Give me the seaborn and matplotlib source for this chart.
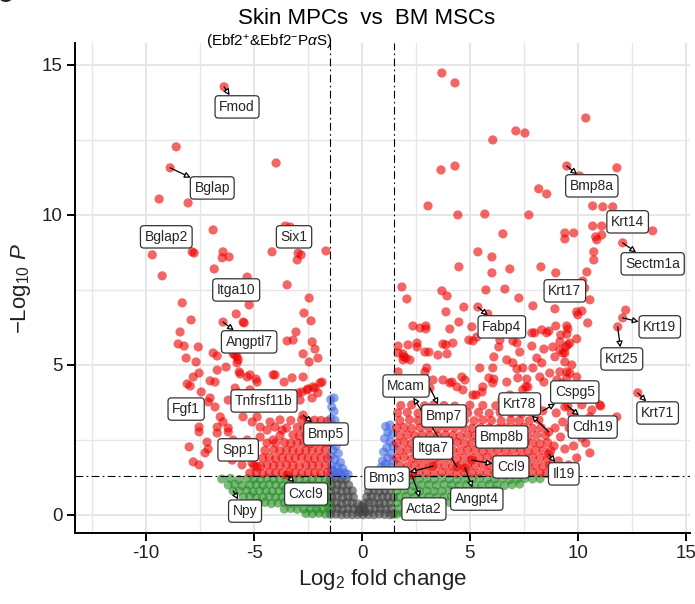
import matplotlib
matplotlib.use("Agg")

import matplotlib.pyplot as plt
from matplotlib.ticker import MultipleLocator
import seaborn as sns
import pandas as pd

sns.set_theme(style="white")
plt.rcParams["font.family"] = ["Liberation Sans", "DejaVu Sans"]
plt.rcParams["mathtext.fontset"] = "custom"
plt.rcParams["mathtext.rm"] = "Liberation Sans"
plt.rcParams["mathtext.it"] = "Liberation Sans:italic"
plt.rcParams["axes.unicode_minus"] = False

# -----------------------------
# DATA  (log2 fold change, -log10 P)
# -----------------------------
# not significant (grey)
ns_pts = [
    (-1.45, 0.02), (-1.2, 0.03), (-0.95, 0.01), (-0.7, 0.02), (-0.45, 0.01), (-0.2, 0.02), (0.05, 0.01),
    (0.3, 0.02), (0.55, 0.01), (0.8, 0.03), (1.05, 0.02), (1.3, 0.01), (1.45, 0.03),
    (-1.4, 0.2), (-1.15, 0.22), (-0.9, 0.18), (-0.65, 0.21), (-0.4, 0.2), (-0.15, 0.19), (0.1, 0.21),
    (0.35, 0.18), (0.6, 0.2), (0.85, 0.22), (1.1, 0.19), (1.35, 0.21),
    (-1.45, 0.42), (-1.2, 0.4), (-0.95, 0.38), (-0.7, 0.41), (-0.45, 0.4), (-0.2, 0.37), (0.12, 0.39),
    (0.32, 0.42), (0.55, 0.4), (0.8, 0.38), (1.05, 0.41), (1.3, 0.4),
    (-1.4, 0.6), (-1.15, 0.62), (-0.9, 0.58), (-0.65, 0.61), (-0.4, 0.6), (0.22, 0.6), (0.45, 0.62),
    (0.7, 0.58), (0.95, 0.61), (1.2, 0.6), (1.45, 0.59),
    (-1.45, 0.8), (-1.2, 0.82), (-0.95, 0.79), (-0.7, 0.8), (-0.45, 0.81), (0.3, 0.8), (0.55, 0.82),
    (0.8, 0.79), (1.05, 0.8), (1.3, 0.81),
    (-1.4, 1.0), (-1.15, 1.02), (-0.9, 0.99), (-0.62, 1.0), (0.4, 1.0), (0.65, 1.02), (0.9, 0.99),
    (1.15, 1.0), (1.42, 1.01),
    (-1.45, 1.2), (-1.2, 1.22), (-0.95, 1.19), (-0.75, 1.2), (0.5, 1.21), (0.75, 1.19), (1.0, 1.22),
    (1.25, 1.2), (1.45, 1.18),
    (0.0, 0.3), (-0.1, 0.1), (0.15, 0.1),
]

# |log2FC| > 1.5 only (green)
fc_left_pts = [
    (-6.5, 1.2), (-6.1, 1.22), (-5.7, 1.18), (-5.3, 1.21), (-5.0, 1.2), (-4.7, 1.19), (-4.4, 1.22), (-4.1, 1.2),
    (-3.8, 1.18), (-3.5, 1.21), (-3.2, 1.2), (-2.9, 1.22), (-2.6, 1.19), (-2.3, 1.2), (-2.0, 1.21), (-1.7, 1.18),
    (-6.2, 1.0), (-5.9, 1.02), (-5.55, 0.98), (-5.2, 1.0), (-4.9, 1.01), (-4.6, 0.99), (-4.3, 1.02), (-4.0, 1.0),
    (-3.7, 0.98), (-3.4, 1.01), (-3.1, 1.0), (-2.8, 0.99), (-2.5, 1.02), (-2.2, 1.0), (-1.9, 0.98), (-1.6, 1.01),
    (-5.7, 0.8), (-5.35, 0.82), (-5.05, 0.78), (-4.75, 0.8), (-4.45, 0.81), (-4.15, 0.79), (-3.85, 0.8),
    (-3.55, 0.82), (-3.25, 0.8), (-2.95, 0.78), (-2.65, 0.81), (-2.35, 0.8), (-2.05, 0.79), (-1.75, 0.82),
    (-5.5, 0.6), (-5.2, 0.62), (-4.9, 0.58), (-4.6, 0.6), (-4.3, 0.61), (-4.0, 0.59), (-3.7, 0.6),
    (-3.4, 0.62), (-3.1, 0.6), (-2.8, 0.58), (-2.5, 0.61), (-2.2, 0.6), (-1.9, 0.59), (-1.6, 0.62),
    (-4.8, 0.4), (-4.5, 0.42), (-4.2, 0.38), (-3.9, 0.4), (-3.6, 0.41), (-3.3, 0.39), (-3.0, 0.4),
    (-2.7, 0.42), (-2.4, 0.4), (-2.1, 0.38), (-1.8, 0.41), (-1.55, 0.4),
    (-3.6, 0.2), (-3.3, 0.22), (-3.0, 0.19), (-2.7, 0.2), (-2.4, 0.21), (-2.1, 0.19), (-1.8, 0.2), (-1.55, 0.22),
    (-2.6, 0.05), (-2.3, 0.04), (-2.0, 0.06), (-1.7, 0.03),
]
fc_right_pts = [
    (1.6, 1.2), (1.95, 1.22), (2.3, 1.18), (2.65, 1.21), (3.0, 1.2), (3.35, 1.19), (3.7, 1.22), (4.05, 1.2),
    (4.4, 1.18), (4.75, 1.21), (5.1, 1.2), (5.45, 1.22), (5.8, 1.19), (6.15, 1.2), (6.5, 1.21), (6.85, 1.18),
    (7.2, 1.2), (7.55, 1.22), (7.9, 1.2), (8.25, 1.21),
    (1.7, 1.0), (2.05, 1.02), (2.4, 0.98), (2.75, 1.0), (3.1, 1.01), (3.45, 0.99), (3.8, 1.02), (4.15, 1.0),
    (4.5, 0.98), (4.85, 1.01), (5.2, 1.0), (5.55, 0.99), (5.9, 1.02), (6.25, 1.0), (6.6, 0.98), (6.95, 1.01),
    (7.3, 1.03),
    (1.6, 0.8), (1.95, 0.82), (2.3, 0.78), (2.65, 0.8), (3.0, 0.81), (3.35, 0.79), (3.7, 0.8), (4.05, 0.82),
    (4.4, 0.8), (4.75, 0.78), (5.1, 0.81), (5.45, 0.8), (5.8, 0.79), (6.15, 0.83),
    (1.7, 0.6), (2.05, 0.62), (2.4, 0.58), (2.75, 0.6), (3.1, 0.61), (3.45, 0.59), (3.8, 0.6), (4.15, 0.62),
    (4.5, 0.6), (4.85, 0.58), (5.2, 0.63),
    (1.6, 0.4), (1.95, 0.42), (2.3, 0.38), (2.65, 0.4), (3.0, 0.41), (3.35, 0.39), (3.7, 0.4), (4.05, 0.42),
    (4.4, 0.43),
    (1.7, 0.2), (2.05, 0.22), (2.4, 0.19), (2.75, 0.2), (3.1, 0.23),
    (1.6, 0.03), (1.9, 0.05), (2.2, 0.04),
]

# P significant only (blue)
p_pts = [
    (-1.45, 3.85), (-1.3, 3.9), (-1.4, 3.6), (-1.3, 3.45), (-1.45, 3.2), (-1.35, 3.0), (-1.45, 2.75),
    (-1.3, 2.6), (-1.42, 2.4), (-1.2, 2.3), (-1.35, 2.15), (-1.1, 2.05), (-1.45, 1.95), (-1.25, 1.85),
    (-1.0, 1.75), (-1.4, 1.65), (-1.15, 1.6), (-0.9, 1.55), (-1.3, 1.45), (-1.05, 1.42), (-0.8, 1.4),
    (-0.65, 1.35), (-1.45, 1.35), (-0.95, 1.33), (-1.2, 1.32), (-1.4, 2.55), (-1.25, 3.15), (-1.4, 1.5),
    (1.1, 2.95), (1.3, 3.0), (1.2, 2.75), (1.4, 2.7), (1.05, 2.55), (1.3, 2.45), (1.45, 2.3), (1.15, 2.25),
    (1.0, 2.1), (1.35, 2.05), (1.2, 1.9), (0.95, 1.8), (1.45, 1.8), (1.1, 1.7), (0.9, 1.6), (1.3, 1.6),
    (0.8, 1.45), (1.0, 1.45), (1.2, 1.4), (1.45, 1.45), (0.7, 1.35), (0.9, 1.33), (1.35, 1.33), (1.1, 1.33),
]

# P and log2FC significant (red), down in Skin MPCs
sig_left_pts = [
    (-8.61, 12.27), (-3.98, 11.73), (-9.4, 10.53), (-8.06, 10.4), (-6.9, 9.5), (-3.56, 9.63), (-3.33, 9.6),
    (-7.87, 8.77), (-7.78, 8.73), (-9.72, 8.67), (-6.44, 8.77), (-6.48, 8.57), (-6.16, 8.6), (-4.17, 8.77),
    (-2.96, 8.73), (-2.82, 8.67), (-3.0, 8.5), (-1.67, 8.8), (-6.85, 8.2), (-9.26, 7.97), (-5.32, 7.93),
    (-3.47, 7.67), (-8.33, 7.07), (-5.23, 7.0), (-2.45, 7.23), (-7.92, 6.5), (-5.83, 6.7), (-5.51, 6.43),
    (-5.46, 6.4), (-2.69, 6.73), (-2.36, 6.47), (-8.43, 6.1), (-8.52, 5.7), (-8.24, 5.63), (-7.59, 5.6),
    (-3.06, 6.1), (-3.47, 5.8), (-3.19, 5.83), (-2.31, 5.77), (-2.18, 5.53), (-2.73, 5.37), (-2.04, 5.23),
    (-6.9, 5.4), (-6.71, 5.3), (-5.88, 5.33), (-5.79, 5.27), (-8.15, 5.23), (-5.97, 5.37), (-5.74, 5.17),
    (-5.79, 5.07), (-7.69, 5.1), (-2.45, 5.1), (-6.3, 4.93), (-6.71, 4.83), (-5.69, 4.77), (-5.65, 4.7),
    (-5.32, 4.6), (-4.91, 4.53), (-7.82, 4.6), (-7.96, 4.3), (-7.45, 4.1), (-7.04, 4.47), (-4.03, 4.67),
    (-2.73, 4.6), (-1.85, 4.43), (-2.18, 4.23), (-2.5, 4.2), (-2.78, 4.1), (-2.96, 4.07), (-7.04, 3.9),
    (-7.13, 3.77), (-6.2, 3.83), (-5.65, 3.77), (-5.19, 4.17), (-7.87, 3.43), (-7.55, 2.93), (-7.55, 2.77),
    (-8.01, 2.27), (-7.82, 1.77), (-7.55, 1.67), (-7.18, 2.43), (-7.13, 2.2), (-7.27, 2.07),
    (-8.1, 4.37), (-7.55, 4.73), (-6.81, 3.6), (-6.57, 3.27), (-6.44, 3.1), (-6.2, 2.9), (-6.2, 2.77),
    (-6.71, 2.93), (-6.71, 2.73), (-6.81, 4.43), (-5.88, 4.23), (-5.74, 4.07), (-5.19, 4.67), (-4.86, 4.43),
    (-4.12, 4.67), (-3.61, 4.43), (-3.24, 4.57), (-2.55, 4.17), (-2.27, 4.27), (-1.94, 4.4), (-2.04, 4.07),
    (-2.31, 3.9), (-2.87, 3.83), (-5.51, 3.27), (-5.09, 3.1), (-4.86, 3.27), (-4.72, 2.93), (-4.26, 3.1),
    (-4.4, 2.83), (-4.03, 2.93), (-3.8, 3.17), (-3.7, 2.83), (-5.97, 2.5), (-5.65, 2.4), (-5.32, 2.5),
    (-4.72, 2.6), (-4.4, 2.4), (-4.12, 2.5), (-6.02, 1.83), (-5.56, 1.67), (-5.09, 1.73), (-4.86, 1.6),
]
sig_left_dense = [
    (-5.2, 1.4), (-4.9, 1.42), (-4.6, 1.38), (-4.3, 1.41), (-4.0, 1.4), (-3.7, 1.39), (-3.4, 1.42),
    (-3.1, 1.4), (-2.8, 1.38), (-2.5, 1.41), (-2.2, 1.4), (-1.9, 1.39), (-1.6, 1.42),
    (-5.0, 1.65), (-4.7, 1.63), (-4.4, 1.66), (-4.1, 1.65), (-3.8, 1.64), (-3.5, 1.67), (-3.2, 1.65),
    (-2.9, 1.63), (-2.6, 1.66), (-2.3, 1.65), (-2.0, 1.64), (-1.7, 1.66),
    (-4.6, 1.9), (-4.3, 1.92), (-4.0, 1.88), (-3.7, 1.91), (-3.4, 1.9), (-3.1, 1.89), (-2.8, 1.92),
    (-2.5, 1.9), (-2.2, 1.88), (-1.9, 1.91), (-1.6, 1.9),
    (-4.5, 2.15), (-4.1, 2.17), (-3.8, 2.14), (-3.5, 2.16), (-3.2, 2.15), (-2.9, 2.13), (-2.6, 2.16),
    (-2.3, 2.15), (-2.0, 2.14), (-1.7, 2.17),
    (-4.0, 2.4), (-3.6, 2.42), (-3.3, 2.39), (-3.0, 2.41), (-2.7, 2.4), (-2.4, 2.38), (-2.1, 2.41),
    (-1.8, 2.4), (-1.55, 2.42),
    (-3.8, 2.65), (-3.2, 2.67), (-2.9, 2.64), (-2.6, 2.66), (-2.3, 2.65), (-2.0, 2.63), (-1.7, 2.66),
    (-3.5, 2.9), (-3.0, 2.92), (-2.7, 2.89), (-2.4, 2.91), (-2.1, 2.9), (-1.8, 2.88), (-1.55, 2.91),
    (-3.3, 3.15), (-2.8, 3.17), (-2.5, 3.14), (-2.2, 3.16), (-1.9, 3.15), (-1.6, 3.13),
]

# P and log2FC significant (red), up in Skin MPCs
sig_right_pts = [
    (3.7, 14.73), (4.31, 14.4), (10.37, 13.23), (7.13, 12.8), (7.55, 12.73), (6.06, 12.5), (3.66, 11.5),
    (4.31, 11.63), (10.09, 11.3), (11.81, 11.57), (8.19, 10.87), (8.56, 10.7), (3.06, 10.3), (10.69, 10.3),
    (11.16, 10.27), (11.62, 10.27), (4.44, 10.0), (5.69, 10.03), (7.73, 10.0), (10.69, 9.63), (11.11, 9.63),
    (13.47, 9.47), (6.53, 9.37), (9.4, 9.4), (9.81, 9.4), (9.4, 9.2), (10.83, 9.27), (10.88, 9.17),
    (11.11, 9.33), (5.37, 8.77), (6.02, 8.6), (10.74, 8.77), (10.74, 8.5), (4.49, 8.27), (6.02, 8.07),
    (6.85, 8.2), (8.29, 8.27), (8.98, 8.07), (10.42, 8.1), (10.23, 7.8), (10.32, 7.57), (1.85, 7.6),
    (2.08, 7.2), (3.7, 7.47), (3.94, 7.3), (5.74, 7.5), (6.62, 7.53), (7.27, 7.23), (7.92, 6.97),
    (8.94, 6.87), (10.56, 7.17), (4.72, 6.93), (3.89, 6.77), (5.83, 6.7), (9.95, 6.77), (10.19, 6.8),
    (10.0, 6.67), (10.46, 6.4), (12.22, 6.83), (2.36, 6.3), (2.69, 6.23), (2.96, 6.3), (2.96, 6.2),
    (4.07, 6.2), (4.49, 6.43), (5.09, 6.27), (7.87, 6.07), (8.66, 6.13), (8.98, 6.3), (9.49, 6.3),
    (9.54, 6.2), (9.21, 6.0), (9.49, 6.03), (9.63, 5.73), (9.95, 5.87), (9.44, 5.6), (1.67, 5.63),
    (2.13, 5.67), (2.55, 5.73), (2.55, 5.6), (3.75, 5.7), (3.89, 5.67), (4.21, 5.73), (5.14, 5.8),
    (5.32, 5.93), (6.34, 5.6), (6.99, 5.8), (7.18, 5.73), (7.87, 5.63), (8.43, 5.53), (8.84, 5.6),
    (2.92, 5.43), (3.1, 5.43), (3.94, 5.37), (1.9, 5.37), (2.04, 5.23), (6.11, 5.27), (7.31, 5.43),
    (9.17, 5.5), (9.31, 5.4), (4.95, 5.83), (5.79, 6.07), (8.0, 6.07), (8.33, 6.17), (8.56, 6.07),
    (6.39, 5.83), (9.17, 5.77), (9.4, 5.4), (9.4, 5.1), (9.72, 5.0), (9.49, 4.77), (9.17, 4.77),
    (9.49, 4.57), (9.26, 4.4), (10.65, 3.5), (11.06, 3.63), (11.81, 3.27), (10.19, 2.57), (10.37, 2.4),
    (10.56, 2.07), (9.95, 1.9), (9.58, 1.67), (1.67, 4.77), (1.9, 5.17), (3.52, 5.33), (6.06, 4.9),
    (6.71, 5.17), (6.99, 5.07), (7.45, 4.9), (8.1, 5.23), (8.33, 5.07), (8.94, 5.27), (9.54, 5.67),
    (5.6, 4.27), (6.06, 4.4), (6.71, 4.43), (3.29, 4.5), (4.07, 4.4), (4.68, 4.17), (5.14, 4.0),
    (5.56, 4.1), (8.7, 4.73), (9.03, 4.5), (9.63, 4.73), (9.95, 4.6), (10.19, 3.67), (10.56, 3.27),
    (11.02, 3.67), (10.23, 2.73), (5.46, 4.9), (5.88, 4.57), (6.11, 4.53), (7.18, 4.87), (7.22, 4.57),
    (7.64, 4.53), (7.59, 4.27), (7.92, 4.9), (8.24, 4.6), (8.43, 4.43), (3.0, 4.9), (2.92, 4.77),
    (4.63, 4.6), (4.77, 4.5), (4.4, 4.27), (4.17, 4.43), (3.75, 4.5), (1.94, 5.27), (2.22, 5.17),
    (1.67, 5.4), (5.28, 4.0), (6.48, 3.83), (6.85, 4.0), (7.45, 4.17), (7.69, 4.27),
    (9.2, 3.9), (9.4, 3.6), (9.0, 3.4), (9.3, 3.1), (8.95, 2.9), (9.2, 2.6), (8.9, 2.3), (9.4, 2.2),
    (9.1, 1.8), (9.6, 2.9), (9.7, 3.4), (9.8, 2.3),
]
sig_right_dense = [
    (1.6, 1.4), (1.95, 1.42), (2.3, 1.38), (2.65, 1.41), (3.0, 1.4), (3.35, 1.39), (3.7, 1.42), (4.05, 1.4),
    (4.4, 1.38), (4.75, 1.41), (5.1, 1.4), (5.45, 1.39), (5.8, 1.42), (6.15, 1.4), (6.5, 1.38), (6.85, 1.41),
    (7.2, 1.4), (7.55, 1.39), (7.9, 1.42), (8.25, 1.4), (8.55, 1.38),
    (1.75, 1.65), (2.1, 1.63), (2.45, 1.66), (2.8, 1.65), (3.15, 1.64), (3.5, 1.67), (3.85, 1.65), (4.2, 1.63),
    (4.55, 1.66), (4.9, 1.65), (5.25, 1.64), (5.6, 1.67), (5.95, 1.65), (6.3, 1.63), (6.65, 1.66), (7.0, 1.65),
    (7.35, 1.64), (7.7, 1.67), (8.05, 1.65), (8.4, 1.63), (8.7, 1.66),
    (1.6, 1.9), (1.95, 1.92), (2.3, 1.88), (2.65, 1.91), (3.0, 1.9), (3.35, 1.89), (3.7, 1.92), (4.05, 1.9),
    (4.4, 1.88), (4.75, 1.91), (5.1, 1.9), (5.45, 1.89), (5.8, 1.92), (6.15, 1.9), (6.5, 1.88), (6.85, 1.91),
    (7.2, 1.9), (7.55, 1.89), (7.9, 1.92), (8.25, 1.9), (8.6, 1.88),
    (1.75, 2.15), (2.1, 2.17), (2.45, 2.14), (2.8, 2.16), (3.15, 2.15), (3.5, 2.13), (3.85, 2.16), (4.2, 2.15),
    (4.55, 2.14), (4.9, 2.17), (5.25, 2.15), (5.6, 2.13), (5.95, 2.16), (6.3, 2.15), (6.65, 2.14), (7.0, 2.17),
    (7.35, 2.15), (7.7, 2.13), (8.05, 2.16), (8.4, 2.15), (8.75, 2.14),
    (1.6, 2.4), (1.95, 2.42), (2.3, 2.39), (2.65, 2.41), (3.0, 2.4), (3.35, 2.38), (3.7, 2.41), (4.05, 2.4),
    (4.4, 2.42), (4.75, 2.39), (5.1, 2.41), (5.45, 2.4), (5.8, 2.38), (6.15, 2.41), (6.5, 2.4), (6.85, 2.42),
    (7.2, 2.39), (7.55, 2.41), (7.9, 2.4), (8.25, 2.38), (8.6, 2.41),
    (1.75, 2.65), (2.1, 2.67), (2.45, 2.64), (2.8, 2.66), (3.15, 2.65), (3.5, 2.63), (3.85, 2.66), (4.2, 2.65),
    (4.55, 2.64), (4.9, 2.67), (5.25, 2.65), (5.6, 2.63), (5.95, 2.66), (6.3, 2.65), (6.65, 2.64), (7.0, 2.67),
    (7.35, 2.65), (7.7, 2.63), (8.1, 2.66), (8.5, 2.65),
    (1.6, 2.9), (1.95, 2.92), (2.3, 2.89), (2.7, 2.91), (3.1, 2.9), (3.5, 2.88), (3.9, 2.91), (4.3, 2.9),
    (4.7, 2.92), (5.1, 2.89), (5.5, 2.91), (5.9, 2.9), (6.3, 2.88), (6.7, 2.91), (7.1, 2.9), (7.5, 2.92),
    (7.9, 2.89), (8.3, 2.91),
    (1.75, 3.15), (2.2, 3.17), (2.6, 3.14), (3.0, 3.16), (3.45, 3.15), (3.9, 3.13), (4.3, 3.16), (4.75, 3.15),
    (5.2, 3.14), (5.6, 3.17), (6.0, 3.15), (6.45, 3.13), (6.9, 3.16), (7.3, 3.15), (7.75, 3.14), (8.2, 3.17),
    (1.65, 3.4), (2.1, 3.42), (2.6, 3.39), (3.1, 3.41), (3.5, 3.4), (4.0, 3.38), (4.5, 3.41), (4.9, 3.4),
    (5.4, 3.42), (5.9, 3.39), (6.4, 3.41), (6.9, 3.4), (7.4, 3.38), (7.9, 3.41),
    (1.8, 3.65), (2.3, 3.67), (2.9, 3.64), (3.3, 3.66), (3.8, 3.65), (4.3, 3.63), (5.0, 3.66), (5.6, 3.65),
    (6.2, 3.64), (6.8, 3.67), (7.5, 3.65), (8.1, 3.63),
]

# labelled genes and their values
label_genes = ["Fmod", "Bglap", "Bglap2", "Six1", "Itga10", "Angptl7", "Fgf1", "Tnfrsf11b", "Bmp5",
               "Spp1", "Cxcl9", "Npy", "Bmp3", "Acta2", "Mcam", "Bmp7", "Itga7", "Bmp8b", "Ccl9",
               "Angpt4", "Krt78", "Cspg5", "Cdh19", "Il19", "Krt71", "Krt25", "Krt19", "Sectm1a",
               "Krt14", "Krt17", "Bmp8a", "Fabp4"]
label_lfc = [-6.39, -8.89, -9.07, -3.15, -5.83, -6.44, -8.15, -4.54, -2.73, -5.74, -3.47, -5.97,
             3.29, 2.31, 4.4, 3.15, 3.29, 6.48, 5.09, 4.77, 8.66, 8.38, 9.54, 8.66, 12.78, 11.85,
             12.08, 12.08, 12.31, 9.4, 9.49, 5.37]
label_p = [14.27, 11.57, 9.27, 9.27, 7.5, 6.43, 3.53, 3.8, 3.33, 2.17, 1.33, 0.8, 1.63, 1.33, 1.6,
           4.23, 2.23, 2.6, 1.83, 1.57, 2.77, 3.47, 3.63, 2.03, 4.07, 6.27, 6.57, 9.07, 9.77, 7.47,
           11.63, 6.93]

# where the repelled label boxes sit (layout only)
label_pos = {
    "Fmod": (-5.79, 13.6), "Bglap": (-6.94, 10.9), "Angptl7": (-5.23, 5.77), "Bmp5": (-1.67, 2.7),
    "Cxcl9": (-2.59, 0.7), "Npy": (-5.42, 0.13), "Bmp3": (1.16, 1.23), "Acta2": (2.87, 0.2),
    "Mcam": (2.04, 4.3), "Bmp7": (3.8, 3.3), "Ccl9": (6.9, 1.6), "Angpt4": (5.32, 0.53),
    "Krt78": (7.31, 3.7), "Cspg5": (9.86, 4.1), "Cdh19": (10.69, 2.93), "Il19": (9.35, 1.37),
    "Krt71": (13.7, 3.4), "Krt25": (12.04, 5.2), "Krt19": (13.8, 6.27), "Sectm1a": (13.47, 8.37),
    "Bmp8a": (10.65, 10.97), "Fabp4": (6.48, 6.27),
}

FC_CUT = 1.5
P_CUT = 1.3  # -log10(0.05)

palette = {"NS": "#404040", "Log2 FC": "#228B22", "p-value": "#4169E1", "p-value and log2 FC": "#EE0000"}

# -----------------------------
# BUILD TABLE
# -----------------------------
groups = [("NS", ns_pts), ("Log2 FC", fc_left_pts), ("Log2 FC", fc_right_pts), ("p-value", p_pts),
          ("p-value and log2 FC", sig_left_dense), ("p-value and log2 FC", sig_right_dense),
          ("p-value and log2 FC", sig_left_pts), ("p-value and log2 FC", sig_right_pts)]
frames = [pd.DataFrame(pts, columns=["log2fc", "nlog10p"]).assign(group=g) for g, pts in groups]


def classify(fc, p):
    if abs(fc) > FC_CUT and p > P_CUT:
        return "p-value and log2 FC"
    if abs(fc) > FC_CUT:
        return "Log2 FC"
    if p > P_CUT:
        return "p-value"
    return "NS"


lab = pd.DataFrame({"log2fc": label_lfc, "nlog10p": label_p, "gene": label_genes})
lab["group"] = [classify(f, p) for f, p in zip(lab.log2fc, lab.nlog10p)]
frames.append(lab[["log2fc", "nlog10p", "group"]])
df = pd.concat(frames, ignore_index=True)

# -----------------------------
# VOLCANO PLOT
# -----------------------------
fig = plt.figure(figsize=(6.95, 6.04), dpi=100)
ax = fig.add_axes([75 / 695, 71 / 604, 615 / 695, 490 / 604])

sns.scatterplot(data=df, x="log2fc", y="nlog10p", hue="group", palette=palette,
                s=44, alpha=0.6, linewidth=0, legend=False, ax=ax, zorder=3)

ax.set_xlim(-13.3, 15.2)
ax.set_ylim(-0.6, 15.73)
ax.xaxis.set_major_locator(MultipleLocator(5))
ax.xaxis.set_minor_locator(MultipleLocator(2.5))
ax.yaxis.set_major_locator(MultipleLocator(5))
ax.yaxis.set_minor_locator(MultipleLocator(2.5))
ax.set_axisbelow(True)
ax.grid(which="major", color="#e6e6e6", lw=1.4)
ax.grid(which="minor", color="#e6e6e6", lw=1.0)

dash = (0, (7, 3, 1.5, 3))
ax.axvline(-FC_CUT, color="black", lw=0.8, ls=dash, zorder=4)
ax.axvline(FC_CUT, color="black", lw=0.8, ls=dash, zorder=4)
ax.axhline(P_CUT, color="black", lw=0.8, ls=dash, zorder=4)

for spine in ["top", "right"]:
    ax.spines[spine].set_visible(False)
for spine in ["left", "bottom"]:
    ax.spines[spine].set_color("black")
    ax.spines[spine].set_linewidth(1.4)

ax.tick_params(which="major", length=6, width=1.4, color="black", labelsize=13.5,
               labelcolor="#222222", left=True, bottom=True, pad=3)
ax.tick_params(which="minor", length=0)

ax.set_xlabel(r"Log$_{2}$ fold change", fontsize=16, color="#222222", labelpad=3)
ax.set_ylabel(r"$-$Log$_{10}$ $\mathit{P}$", fontsize=16, color="#222222", labelpad=6)

box = dict(boxstyle="round,pad=0.3,rounding_size=0.25", fc="white", ec="#333333", lw=0.9)
for gene, fc, p in zip(lab.gene, lab.log2fc, lab.nlog10p):
    if gene in label_pos:
        tx, ty = label_pos[gene]
        ax.annotate(gene, xy=(fc, p), xytext=(tx, ty), ha="center", va="center", fontsize=10,
                    bbox=box, zorder=6,
                    arrowprops=dict(arrowstyle="<|-,head_length=0.35,head_width=0.18",
                                    ec="black", fc="white", lw=0.9, shrinkA=0, shrinkB=0))
    else:
        ax.text(fc, p, gene, ha="center", va="center", fontsize=10, bbox=box, zorder=6)

fig.text(367 / 695, 1 - 18 / 604, "Skin MPCs  vs  BM MSCs", ha="center", va="center",
         fontsize=16, color="black")
fig.text(269 / 695, 1 - 42 / 604, r"(Ebf2$^{+}$&Ebf2$^{-}$P$\alpha$S)", ha="center", va="center",
         fontsize=11, color="black")
fig.text(-0.004, 1 - 9 / 604, "c", ha="left", va="bottom", fontsize=22, fontweight="bold")

fig.savefig("out.png", dpi=100)
plt.close(fig)
